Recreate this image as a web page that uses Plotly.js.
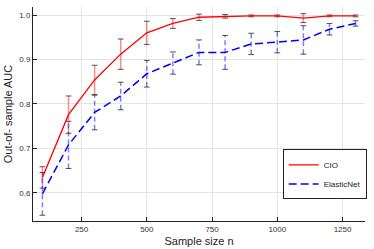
<!DOCTYPE html>
<html><head><meta charset="utf-8">
<script src="https://cdn.plot.ly/plotly-3.0.1.min.js"></script>
<style>html,body{margin:0;padding:0;background:#fff}#c{width:374px;height:249px}</style>
</head><body><div id="c"></div>
<script>
const sampleSize = [100,200,300,400,500,600,700,800,900,1000,1100,1200,1300];
const cioMean = [0.635,0.776,0.854,0.912,0.960,0.981,0.995,0.997,0.998,0.998,0.993,0.998,0.998];
const cioErr  = [0.024,0.042,0.033,0.034,0.026,0.011,0.007,0.004,0.002,0.002,0.010,0.002,0.002];
const enMean  = [0.598,0.708,0.781,0.818,0.868,0.892,0.916,0.916,0.935,0.939,0.944,0.968,0.981];
const enErr   = [0.048,0.053,0.039,0.031,0.030,0.025,0.028,0.038,0.024,0.024,0.032,0.013,0.006];

function stems(xs, m, e){
  const X=[],Y=[];
  xs.forEach((x,i)=>{X.push(x,x,null);Y.push(m[i]-e[i],m[i]+e[i],null);});
  return {x:X,y:Y};
}
function caps(xs, m, e, d){
  const X=[],Y=[];
  xs.forEach((x,i)=>{
    X.push(x-d,x+d,null,x-d,x+d,null);
    Y.push(m[i]+e[i],m[i]+e[i],null,m[i]-e[i],m[i]-e[i],null);
  });
  return {x:X,y:Y};
}
const capHalf = 11;
const rs = stems(sampleSize,cioMean,cioErr), bs = stems(sampleSize,enMean,enErr);
const rc = caps(sampleSize,cioMean,cioErr,capHalf), bc = caps(sampleSize,enMean,enErr,capHalf);
const traces = [
  {x:rs.x,y:rs.y,mode:'lines',line:{color:'rgba(255,60,60,0.6)',width:1.5},showlegend:false,hoverinfo:'skip'},
  {x:bs.x,y:bs.y,mode:'lines',line:{color:'rgba(40,40,255,0.6)',width:1.5,dash:'5px,3px'},showlegend:false,hoverinfo:'skip'},
  {x:rc.x,y:rc.y,mode:'lines',line:{color:'rgba(40,40,40,0.8)',width:1},showlegend:false,hoverinfo:'skip'},
  {x:bc.x,y:bc.y,mode:'lines',line:{color:'rgba(40,40,40,0.8)',width:1},showlegend:false,hoverinfo:'skip'},
  {x:sampleSize,y:cioMean,mode:'lines',name:'CIO',line:{color:'#ff0000',width:1.3}},
  {x:sampleSize,y:enMean,mode:'lines',name:'ElasticNet',line:{color:'#0000ff',width:1.5,dash:'8px,4px'}}
];
const tickFont = {family:'Liberation Sans, Arial, sans-serif',size:8,color:'#333'};
const layout = {
  width:374,height:249,
  margin:{l:33,r:7,t:7,b:28},
  paper_bgcolor:'#fff',plot_bgcolor:'#fff',
  font:{family:'Liberation Sans, Arial, sans-serif',color:'#222'},
  xaxis:{range:[64,1336],tickvals:[250,500,750,1000,1250],ticktext:['250','500','750','1000','1250'],
    showgrid:true,gridcolor:'#e4e4e4',gridwidth:1,zeroline:false,
    showline:true,linecolor:'#222',linewidth:1,ticks:'inside',ticklen:4,tickcolor:'#222',
    tickfont:tickFont,title:{text:'Sample size n',font:{size:11,color:'#222'},standoff:4}},
  yaxis:{range:[0.537,1.018],tickvals:[0.6,0.7,0.8,0.9,1.0],ticktext:['0.6','0.7','0.8','0.9','1.0'],
    showgrid:true,gridcolor:'#e4e4e4',gridwidth:1,zeroline:false,
    showline:true,linecolor:'#222',linewidth:1,ticks:'inside',ticklen:4,tickcolor:'#222',
    tickfont:tickFont,title:{text:'Out-of- sample AUC',font:{size:11,color:'#222'},standoff:4}},
  legend:{x:0.752,y:0.101,xanchor:'left',yanchor:'bottom',bgcolor:'#fff',bordercolor:'#222',borderwidth:1,
    font:{size:8,color:'#222'},tracegroupgap:0,itemwidth:30},
  showlegend:true
};
Plotly.newPlot('c',traces,layout,{displayModeBar:false,staticPlot:true});
</script></body></html>
